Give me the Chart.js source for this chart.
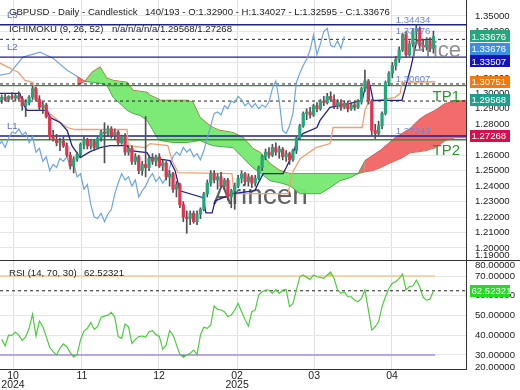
<!DOCTYPE html>
<html>
<head>
<meta charset="utf-8">
<script src="https://cdn.jsdelivr.net/npm/chart.js@4.4.1/dist/chart.umd.min.js"></script>
<style>
  html, body { margin: 0; padding: 0; background: #fff; }
  #wrap { position: relative; width: 520px; height: 390px; overflow: hidden; }
  #wrap canvas { position: absolute; left: 0; }
</style>
</head>
<body>
<div id="wrap">
  <canvas id="priceChart" width="520" height="261" style="top:0"></canvas>
  <canvas id="rsiChart" width="520" height="129" style="top:261px"></canvas>
</div>
<script>
// daily candles, oldest first
const opens = [1.2960,1.2975,1.2960,1.2980,1.2970,1.2985,1.2965,1.2920,1.2940,1.2975,
  1.3030,1.2960,1.2910,1.2925,1.2850,1.2720,1.2700,1.2680,1.2690,1.2660,
  1.2600,1.2530,1.2575,1.2605,1.2670,1.2700,1.2660,1.2690,1.2650,1.2710,
  1.2750,1.2740,1.2770,1.2730,1.2750,1.2680,1.2720,1.2620,1.2645,1.2560,
  1.2590,1.2500,1.2540,1.2520,1.2580,1.2560,1.2590,1.2530,1.2550,1.2460,
  1.2480,1.2380,1.2410,1.2280,1.2200,1.2190,1.2225,1.2170,1.2220,1.2250,
  1.2350,1.2420,1.2480,1.2440,1.2460,1.2400,1.2440,1.2330,1.2370,1.2400,
  1.2450,1.2480,1.2430,1.2460,1.2420,1.2450,1.2520,1.2590,1.2620,1.2600,
  1.2650,1.2620,1.2640,1.2590,1.2610,1.2570,1.2630,1.2710,1.2790,1.2870,
  1.2880,1.2860,1.2920,1.2900,1.2950,1.2940,1.2980,1.2960,1.2920,1.2940,
  1.2910,1.2935,1.2900,1.2925,1.2910,1.2945,1.3030,1.3080,1.2950,1.2760,
  1.2740,1.2790,1.2870,1.3070,1.3130,1.3180,1.3220,1.3280,1.3380,1.3250,
  1.3320,1.3400,1.3420,1.3310,1.3300,1.3340,1.32900];
const highs = [1.2990,1.3000,1.2985,1.3005,1.2995,1.3010,1.2980,1.2960,1.2985,1.3045,
  1.3040,1.2985,1.2945,1.2935,1.2860,1.2760,1.2735,1.2710,1.2720,1.2680,
  1.2620,1.2590,1.2620,1.2680,1.2720,1.2710,1.2700,1.2700,1.2720,1.2760,
  1.2810,1.2790,1.2785,1.2770,1.2760,1.2730,1.2740,1.2660,1.2660,1.2610,
  1.2600,1.2560,1.2850,1.2600,1.2610,1.2600,1.2610,1.2570,1.2560,1.2500,
  1.2490,1.2430,1.2420,1.2300,1.2240,1.2240,1.2240,1.2240,1.2260,1.2360,
  1.2440,1.2500,1.2500,1.2480,1.2490,1.2450,1.2450,1.2380,1.2420,1.2470,
  1.2500,1.2490,1.2480,1.2470,1.2470,1.2530,1.2600,1.2640,1.2650,1.2670,
  1.2680,1.2660,1.2650,1.2630,1.2620,1.2640,1.2720,1.2800,1.2880,1.2900,
  1.2910,1.2930,1.2940,1.2960,1.2980,1.3000,1.3010,1.2990,1.2960,1.2960,
  1.2950,1.2950,1.2940,1.2950,1.2960,1.3040,1.3150,1.3090,1.2960,1.2800,
  1.2820,1.2880,1.3080,1.3140,1.3200,1.3240,1.3300,1.3390,1.3400,1.3340,
  1.3420,1.3443,1.3430,1.3350,1.3360,1.3360,1.34027];
const lows = [1.2935,1.2950,1.2945,1.2960,1.2950,1.2955,1.2890,1.2850,1.2925,1.2960,
  1.2950,1.2890,1.2870,1.2840,1.2700,1.2690,1.2660,1.2630,1.2650,1.2590,
  1.2510,1.2485,1.2560,1.2590,1.2640,1.2640,1.2640,1.2630,1.2640,1.2690,
  1.2550,1.2720,1.2710,1.2700,1.2660,1.2670,1.2600,1.2600,1.2540,1.2540,
  1.2480,1.2470,1.2460,1.2500,1.2540,1.2530,1.2520,1.2500,1.2440,1.2400,
  1.2360,1.2330,1.2260,1.2170,1.2095,1.2150,1.2160,1.2150,1.2190,1.2240,
  1.2330,1.2400,1.2420,1.2380,1.2390,1.2380,1.2310,1.2260,1.2250,1.2390,
  1.2420,1.2410,1.2400,1.2390,1.2400,1.2440,1.2500,1.2570,1.2580,1.2590,
  1.2600,1.2580,1.2570,1.2560,1.2540,1.2560,1.2610,1.2700,1.2780,1.2830,
  1.2840,1.2850,1.2880,1.2890,1.2920,1.2930,1.2950,1.2900,1.2900,1.2890,
  1.2900,1.2880,1.2890,1.2890,1.2900,1.2930,1.3010,1.2930,1.2730,1.2708,
  1.2730,1.2770,1.2860,1.3050,1.3100,1.3150,1.3200,1.3270,1.3230,1.3240,
  1.3300,1.3330,1.3290,1.3270,1.3280,1.3270,1.32595];
const closes = [1.2975,1.2960,1.2980,1.2970,1.2985,1.2965,1.2920,1.2940,1.2975,1.3030,
  1.2960,1.2910,1.2925,1.2850,1.2720,1.2700,1.2680,1.2690,1.2660,1.2600,
  1.2530,1.2575,1.2605,1.2670,1.2700,1.2660,1.2690,1.2650,1.2710,1.2750,
  1.2740,1.2770,1.2730,1.2750,1.2680,1.2720,1.2620,1.2645,1.2560,1.2590,
  1.2500,1.2540,1.2520,1.2580,1.2560,1.2590,1.2530,1.2550,1.2460,1.2480,
  1.2380,1.2410,1.2280,1.2200,1.2190,1.2225,1.2170,1.2220,1.2250,1.2350,
  1.2420,1.2480,1.2440,1.2460,1.2400,1.2440,1.2330,1.2370,1.2400,1.2450,
  1.2480,1.2430,1.2460,1.2420,1.2450,1.2520,1.2590,1.2620,1.2600,1.2650,
  1.2620,1.2640,1.2590,1.2610,1.2570,1.2630,1.2710,1.2790,1.2870,1.2880,
  1.2860,1.2920,1.2900,1.2950,1.2940,1.2980,1.2960,1.2920,1.2940,1.2910,
  1.2935,1.2900,1.2925,1.2910,1.2945,1.3030,1.3080,1.2950,1.2760,1.2740,
  1.2790,1.2870,1.3070,1.3130,1.3180,1.3220,1.3280,1.3380,1.3250,1.3320,
  1.3400,1.3420,1.3310,1.3300,1.3340,1.3290,1.33676];

// ichimoku lines (x = bar position)
const tenkanX = [-0.5,5.3,6.2,7.4,13.2,14.1,17.0,19.1,20.5,22.9,25.8,28.7,31.6,36.6,37.4,42.4,43.3,49.1,50.6,52.0,
  58.8,59.6,61.4,62.3,67.5,73.9,74.8,76.3,82.1,83.0,85.0,86.2,87.9,92.0,92.9,95.8,101.7,105.2,106.0,107.5,
  108.4,116.8,119.2,121.2,126.5];
const tenkanY = [1.3000,1.3000,1.2935,1.2890,1.2890,1.2844,1.2812,1.2760,1.2662,1.2584,1.2623,1.2649,1.2662,1.2662,1.2630,1.2617,1.2584,1.2565,1.2500,1.2370,
  1.2325,1.2227,1.2227,1.2305,1.2351,1.2370,1.2416,1.2481,1.2481,1.2519,1.2610,1.2695,1.2740,1.2779,1.2825,1.2909,1.2935,1.2955,1.3032,1.3052,
  1.2955,1.2955,1.3149,1.3344,1.3351];
const kijunX = [-0.5,4.8,6.8,9.1,10.3,12.6,14.1,16.4,19.1,21.4,36.6,36.9,41.8,43.3,48.5,49.7,51.5,67.2,67.8,83.6,
  84.7,87.1,91.7,95.8,96.7,105.2,106.0,106.9,109.8,114.8,116.3,116.8,126.5];
const kijunY = [1.3195,1.3136,1.3084,1.3071,1.2974,1.2909,1.2870,1.2825,1.2779,1.2766,1.2766,1.2662,1.2649,1.2675,1.2662,1.2565,1.2487,1.2481,1.2351,1.2351,
  1.2481,1.2578,1.2649,1.2675,1.2779,1.2779,1.2890,1.2935,1.2955,1.2974,1.3000,1.3071,1.3075];
const leadX = [-0.5,2.4,6.2,11.2,15.0,19.1,22.0];
const leadY = [1.3117,1.3130,1.3234,1.3266,1.3227,1.3149,1.3110];
const cloudX = [22.0,24.3,26.4,28.7,30.7,32.5,34.5,36.6,38.3,40.4,42.4,43.3,45.3,46.2,50.0,54.1,55.8,57.9,59.9,61.7,
  63.7,67.5,70.4,73.3,75.4,78.3,81.2,84.1,87.1,90.0,92.9,95.8,98.7,101.7,104.0,106.0,108.1,110.4,112.8,114.8,
  116.8,119.2,121.5,123.5,126.5,129.4,132.3,135.5];
const spanA = [1.3110,1.3078,1.3071,1.3065,1.3052,1.2974,1.2935,1.2890,1.2870,1.2857,1.2825,1.2792,1.2714,1.2695,1.2682,1.2682,1.2688,1.2695,1.2675,1.2662,
  1.2656,1.2649,1.2584,1.2519,1.2487,1.2435,1.2422,1.2403,1.2351,1.2351,1.2351,1.2390,1.2435,1.2455,1.2481,1.2565,1.2597,1.2630,1.2675,1.2714,
  1.2740,1.2773,1.2825,1.2857,1.2890,1.2935,1.2948,1.2955];
const spanB = [1.3052,1.3078,1.3136,1.3169,1.3097,1.3084,1.3078,1.3071,1.3019,1.3013,1.3006,1.2987,1.2968,1.2955,1.2955,1.2955,1.2942,1.2844,1.2805,1.2779,
  1.2760,1.2747,1.2714,1.2643,1.2617,1.2545,1.2500,1.2481,1.2481,1.2481,1.2481,1.2481,1.2481,1.2481,1.2481,1.2494,1.2500,1.2519,1.2545,1.2565,
  1.2584,1.2617,1.2623,1.2630,1.2649,1.2695,1.2714,1.2714];
const chikouShift = 26;

// horizontal levels
const navyLevels = [1.34434, 1.3234, 1.27243];
const navyNames = ['L3', 'L2', 'L1'];
const dashedLevels = [1.3349, 1.30607, 1.2950];
const greenLevels = [1.3050, 1.2700];
const greenNames = ['TP1', 'TP2'];
const levelTagValues = [1.34434, 1.33676, 1.30607, 1.27243];

// right axis tags
const tagValues = [1.33676, 1.33676, 1.33507, 1.30751, 1.29568, 1.27268];
const tagColors = ['#25a67d', '#3b8ee4', '#1414b8', '#f07a12', '#1e9e8c', '#d3124d'];

// rsi(14)
const rsi = [37.9,34.6,40.1,39.9,41.6,39.9,37.3,39.3,43.5,50.7,
  39.6,47.2,44.3,39.3,33.9,31.7,30.0,33.4,35.6,34.2,
  31.2,29.0,30.3,37.6,42.1,43.5,46.4,43.0,44.3,49.1,
  49.7,50.2,51.6,49.1,39.3,38.4,45.7,44.3,35.9,37.9,
  39.3,39.6,39.1,41.8,42.3,40.3,39.4,32.9,35.1,42.3,
  40.1,35.1,30.3,28.8,30.0,30.8,32.5,30.3,40.1,44.0,
  43.5,45.2,54.8,53.1,52.8,51.9,49.4,50.2,52.8,56.1,
  51.9,48.0,44.7,51.9,52.8,60.4,62.0,62.9,62.9,61.2,
  63.2,61.2,62.9,63.2,54.5,56.1,62.9,69.6,70.5,69.3,
  68.3,70.5,69.6,69.3,68.8,70.5,72.0,68.8,62.9,61.2,
  62.0,59.5,59.5,57.8,57.0,58.7,62.9,52.8,42.6,44.3,
  46.9,54.5,59.5,63.7,66.3,67.1,68.8,71.0,62.9,64.6,
  64.9,67.9,64.6,59.2,57.8,58.2,62.52321];
const rsiLast = 62.52321;

// axes
const xMin = -0.5, xMax = 135.5;
const monthPos = [3.3, 23.4, 45.9, 68.7, 91.2, 113.9];
const monthLabels = [['10', '2024'], '11', '12', ['02', '2025'], '03', '04'];
const priceTicks = [1.20,1.21,1.22,1.23,1.24,1.25,1.26,1.27,1.28,1.29,1.30,1.31,1.32,1.33,1.34,1.35];
const priceMin = 1.19159, priceMax = 1.36034;
const rsiTicks = [30, 40, 50, 60, 70];
const rsiMin = 22.9, rsiMax = 77.6;

const FONT = '"Liberation Sans", Arial, sans-serif';
Chart.defaults.font.family = FONT;
Chart.defaults.font.size = 9.6;
Chart.defaults.color = '#222';

const pts = (xs, ys) => xs.map((x, i) => ({ x: x, y: ys[i] }));
const flat = v => [{ x: xMin, y: v }, { x: xMax, y: v }];

function lineSet(data, color, width, order, extra) {
  return Object.assign({
    type: 'line', data: data, borderColor: color, borderWidth: width,
    pointRadius: 0, tension: 0, fill: false, order: order
  }, extra || {});
}

const idx = closes.map((c, i) => i);
const bodyColors = idx.map(i => closes[i] >= opens[i] ? '#22a67c' : '#e2334f');
const cloudRed = i => spanA[i] > spanB[i];

const priceSets = [
  { type: 'bar', data: idx.map(i => ({ x: i, y: [opens[i], closes[i]] })), backgroundColor: bodyColors,
    barThickness: 2.6, grouped: false, minBarLength: 1, order: 0 },
  { type: 'bar', data: idx.map(i => ({ x: i, y: [lows[i], highs[i]] })), backgroundColor: '#505050',
    barThickness: 1, grouped: false, order: 1 },
  lineSet(pts(tenkanX, tenkanY), '#23238c', 1.3, 2),
  lineSet(pts(kijunX, kijunY), '#f0a070', 1.3, 3),
  lineSet(closes.map((c, i) => ({ x: i - chikouShift, y: c })), '#6ea6de', 1.2, 4),
  lineSet(pts(leadX, leadY), '#7aa6da', 1.2, 6)
];
navyLevels.forEach(v => priceSets.push(lineSet(flat(v), '#20208a', 1.4, 5)));
dashedLevels.forEach(v => priceSets.push(lineSet(flat(v), '#222', 1, 5, { borderDash: [3, 3] })));
greenLevels.forEach(v => priceSets.push(lineSet(flat(v), '#3b8a3b', 1.4, 5)));
const spanBIndex = priceSets.length + 1;
priceSets.push(lineSet(pts(cloudX, spanA), '#45b045', 1, 8, {
  fill: { target: spanBIndex, above: 'rgba(241,100,100,0.95)', below: 'rgba(118,232,112,0.95)' },
  segment: { borderColor: c => cloudRed(c.p0DataIndex) ? '#e05454' : '#45b045' }
}));
priceSets.push(lineSet(pts(cloudX, spanB), '#a87640', 1.2, 9, {
  segment: { borderColor: c => cloudRed(c.p0DataIndex) ? '#e05454' : '#a87640' }
}));

function stackTags(scale, values) {
  let prev = -100;
  return values.map(v => {
    let y = scale.getPixelForValue(v);
    if (y < prev + 12.5) y = prev + 12.5;
    prev = y;
    return y;
  });
}

function tag(ctx, text, y, color, left) {
  ctx.fillStyle = color;
  ctx.fillRect(left, Math.round(y - 6), 40, 12);
  ctx.fillStyle = '#fff';
  ctx.textAlign = 'left';
  ctx.textBaseline = 'middle';
  ctx.fillText(text, left + 1.5, y + 0.5);
}

const priceDecor = {
  id: 'priceDecor',
  beforeDatasetsDraw(chart) {
    const ctx = chart.ctx;
    ctx.save();
    ctx.font = '28px ' + FONT;
    ctx.fillStyle = 'rgba(70,70,70,0.85)';
    ctx.textBaseline = 'alphabetic';
    ctx.fillText('Arincen', 213, 204);
    ctx.restore();
  },
  afterDraw(chart) {
    const { ctx, chartArea } = chart;
    const xs = chart.scales.x, ys = chart.scales.y;
    ctx.save();
    ctx.font = '9.6px ' + FONT;
    ctx.textBaseline = 'bottom';
    ctx.fillStyle = '#5a6cc8';
    navyLevels.forEach((v, i) => ctx.fillText(navyNames[i], 7, ys.getPixelForValue(v) - 5));
    ctx.fillStyle = '#6a86d6';
    levelTagValues.forEach(v => ctx.fillText(v.toFixed(5), xs.getPixelForValue(115), ys.getPixelForValue(v)));

    ctx.font = '15px ' + FONT;
    ctx.fillStyle = '#2f962f';
    ctx.textAlign = 'right';
    ctx.textBaseline = 'top';
    greenLevels.forEach((v, i) => ctx.fillText(greenNames[i], chartArea.right - 6, ys.getPixelForValue(v) + 4));
    ctx.font = '22px ' + FONT;
    ctx.fillStyle = 'rgba(125,125,125,0.85)';
    ctx.fillText('Price', chartArea.right - 5, ys.getPixelForValue(dashedLevels[0]) + 1);

    ctx.font = '9.6px ' + FONT;
    ctx.fillStyle = '#222';
    ctx.textAlign = 'left';
    ctx.textBaseline = 'middle';
    ctx.fillText('GBPUSD - Daily - Candlestick', 9, 12.5);
    ctx.fillText('140/193 - O:1.32900 - H:1.34027 - L:1.32595 - C:1.33676', 145, 12.5);
    ctx.fillText('ICHIMOKU (9, 26, 52)', 9, 29);
    ctx.fillText('n/a/n/a/n/a/1.29568/1.27268', 112, 29);
    ctx.fillText('1.19000', chartArea.right + 9, chartArea.bottom - 6);

    const tagY = stackTags(ys, tagValues);
    tagValues.forEach((v, i) => tag(ctx, v.toFixed(5), tagY[i], tagColors[i], chartArea.right + 4));

    ctx.strokeStyle = '#333';
    ctx.lineWidth = 1;
    ctx.beginPath();
    ctx.moveTo(0, chart.height - 0.5);
    ctx.lineTo(chart.width, chart.height - 0.5);
    ctx.stroke();
    ctx.restore();
  }
};

new Chart(document.getElementById('priceChart'), {
  type: 'bar',
  data: { datasets: priceSets },
  options: {
    responsive: false,
    animation: false,
    events: [],
    layout: { padding: 0 },
    plugins: { legend: { display: false }, tooltip: { enabled: false } },
    scales: {
      x: {
        type: 'linear', min: xMin, max: xMax, offset: false,
        afterBuildTicks: s => { s.ticks = monthPos.map(v => ({ value: v })); },
        afterFit: s => { s.height = 0; s.paddingLeft = 0; s.paddingRight = 0; },
        ticks: { display: false },
        grid: { color: '#e0e0e0', drawTicks: false, offset: false },
        border: { display: false }
      },
      y: {
        position: 'right', min: priceMin, max: priceMax,
        afterBuildTicks: s => { s.ticks = priceTicks.map(v => ({ value: v })); },
        afterFit: s => { s.width = 54; s.paddingTop = 0; s.paddingBottom = 0; },
        ticks: { padding: 9, autoSkip: false, callback: v => v.toFixed(5) },
        grid: { color: '#e6e6e6', drawTicks: false },
        border: { display: true, color: '#333', width: 1 }
      }
    }
  },
  plugins: [priceDecor]
});

const rsiDecor = {
  id: 'rsiDecor',
  afterDraw(chart) {
    const { ctx, chartArea } = chart;
    const ys = chart.scales.y;
    ctx.save();
    ctx.font = '9.6px ' + FONT;
    ctx.fillStyle = '#222';
    ctx.textAlign = 'left';
    ctx.textBaseline = 'middle';
    ctx.fillText('RSI (14, 70, 30)', 9, 12);
    ctx.fillText(rsiLast.toFixed(5), 84, 12);
    ctx.fillText('80.00000', chartArea.right + 9, 4.5);
    ctx.fillText('20.00000', chartArea.bottom - 2 > 0 ? chartArea.right + 9 : 0, chartArea.bottom - 2);
    tag(ctx, rsiLast.toFixed(5), ys.getPixelForValue(rsiLast), '#22dd22', chartArea.right + 4);
    ctx.restore();
  }
};

const rsiPts = rsi.map((v, i) => ({ x: i, y: v }));
const lastBar = closes.length - 1 + 0.5;

new Chart(document.getElementById('rsiChart'), {
  type: 'line',
  data: {
    datasets: [
      lineSet(rsiPts, '#4ccd3e', 1.2, 0, {
        fill: { target: { value: 70 }, above: 'rgba(232,206,60,0.95)', below: 'rgba(0,0,0,0)' }
      }),
      lineSet(rsiPts, 'rgba(0,0,0,0)', 0, 1, {
        fill: { target: { value: 30 }, above: 'rgba(0,0,0,0)', below: 'rgba(90,125,205,0.9)' }
      }),
      lineSet([{ x: xMin, y: 70 }, { x: lastBar, y: 70 }], '#f3ca8c', 1.5, 2),
      lineSet([{ x: xMin, y: 30 }, { x: lastBar, y: 30 }], '#a68be6', 1.5, 2),
      lineSet(flat(rsiLast), '#222', 1, 1, { borderDash: [3, 3] })
    ]
  },
  options: {
    responsive: false,
    animation: false,
    events: [],
    layout: { padding: 0 },
    plugins: { legend: { display: false }, tooltip: { enabled: false } },
    scales: {
      x: {
        type: 'linear', min: xMin, max: xMax, offset: false,
        afterBuildTicks: s => { s.ticks = monthPos.map(v => ({ value: v })); },
        afterFit: s => { s.height = 21; s.paddingLeft = 0; s.paddingRight = 0; },
        ticks: { autoSkip: false, maxRotation: 0, padding: 2, font: { size: 10.5, lineHeight: 0.9 },
                 callback: (v, i) => monthLabels[i] },
        grid: { color: '#e0e0e0', drawTicks: false },
        border: { display: true, color: '#333', width: 1 }
      },
      y: {
        position: 'right', min: rsiMin, max: rsiMax,
        afterBuildTicks: s => { s.ticks = rsiTicks.map(v => ({ value: v })); },
        afterFit: s => { s.width = 54; s.paddingTop = 0; s.paddingBottom = 0; },
        ticks: { padding: 9, autoSkip: false, callback: v => v.toFixed(5) },
        grid: { color: '#e6e6e6', drawTicks: false },
        border: { display: true, color: '#333', width: 1 }
      }
    }
  },
  plugins: [rsiDecor]
});
</script>
</body>
</html>
